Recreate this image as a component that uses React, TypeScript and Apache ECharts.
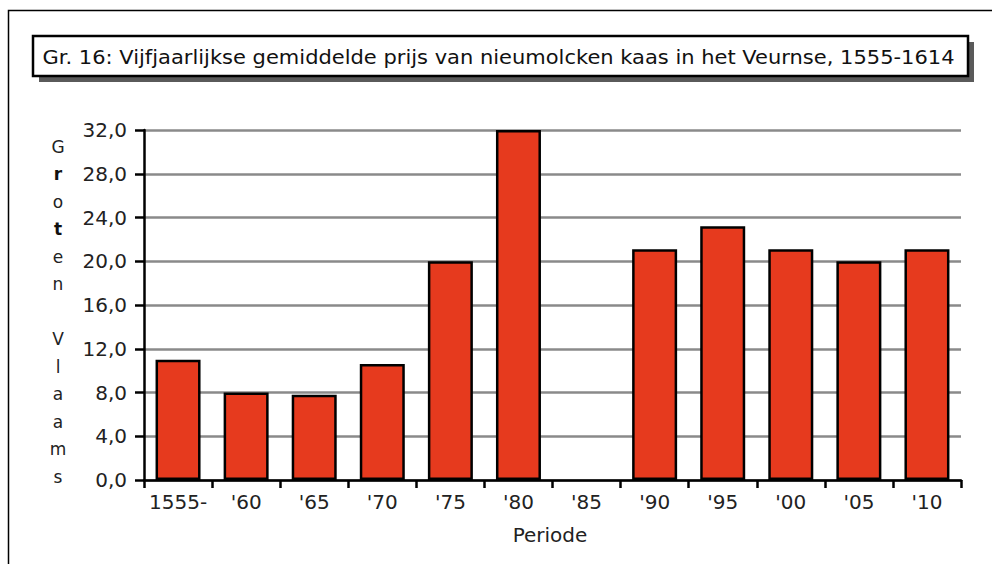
import React, { useEffect, useRef } from "react";
import * as echarts from "echarts";

const categories = ["1555-", "'60", "'65", "'70", "'75", "'80", "'85", "'90", "'95", "'00", "'05", "'10"];
const prices: (number | null)[] = [11.0, 8.0, 7.8, 10.6, 20.0, 32.0, null, 21.1, 23.2, 21.1, 20.0, 21.1];
const titleText = "Gr. 16: Vijfjaarlijkse gemiddelde prijs van nieumolcken kaas in het Veurnse, 1555-1614";
const yNameLetters = ["G", "r", "o", "t", "e", "n", "", "V", "l", "a", "a", "m", "s"];
const boldLetters = [1, 3];
const xName = "Periode";

const FONT = "DejaVu Sans";

export default function App() {
  const ref = useRef<HTMLDivElement>(null);
  useEffect(() => {
    if (!ref.current) return;
    const chart = echarts.init(ref.current, undefined, { renderer: "svg" });
    const richText = yNameLetters
      .map((l, i) => (l === "" ? "{n| }" : `{${boldLetters.includes(i) ? "b" : "n"}|${l}}`))
      .join("\n");
    chart.setOption({
      animation: false,
      backgroundColor: "#ffffff",
      grid: { left: 144, top: 130, width: 817, height: 350 },
      xAxis: {
        type: "category",
        data: categories,
        boundaryGap: true,
        axisLine: { show: true, onZero: false, lineStyle: { color: "#000", width: 2.5 } },
        axisTick: { show: true, interval: 0, alignWithLabel: false, length: 8, lineStyle: { color: "#000", width: 2.5 } },
        axisLabel: { interval: 0, color: "#222", fontFamily: FONT, fontSize: 20, margin: 12 },
        splitLine: { show: false },
      },
      yAxis: {
        type: "value",
        min: 0,
        max: 32,
        interval: 4,
        axisLine: { show: true, lineStyle: { color: "#000", width: 2.5 } },
        axisTick: { show: true, length: 9, lineStyle: { color: "#000", width: 2.5 } },
        axisLabel: {
          color: "#222",
          fontFamily: FONT,
          fontSize: 20,
          margin: 17,
          formatter: (v: number) => v.toFixed(1).replace(".", ","),
        },
        splitLine: { show: true, lineStyle: { color: "#8a8a8a", width: 2.5 } },
      },
      series: [
        {
          type: "bar",
          data: prices,
          barWidth: 45,
          itemStyle: { color: "#E63A1E", borderColor: "#000", borderWidth: 2.5 },
        },
      ],
      graphic: [
        {
          type: "rect",
          shape: { x: 8.5, y: 10.5, width: 1100, height: 700 },
          style: { fill: "none", stroke: "#000", lineWidth: 1.5 },
          silent: true,
        },
        {
          type: "rect",
          shape: { x: 39, y: 42, width: 935, height: 40 },
          style: { fill: "#5a5a5a" },
          silent: true,
        },
        {
          type: "rect",
          shape: { x: 33, y: 36, width: 935, height: 40 },
          style: { fill: "#fff", stroke: "#000", lineWidth: 2.5 },
          silent: true,
        },
        {
          type: "text",
          x: 498.5,
          y: 57,
          scaleX: 1.05,
          style: {
            text: titleText,
            fontFamily: FONT,
            fontSize: 20,
            fill: "#111",
            align: "center",
            verticalAlign: "middle",
          },
          silent: true,
        },
        {
          type: "text",
          x: 58,
          y: 133,
          style: {
            text: richText,
            align: "center",
            verticalAlign: "top",
            fill: "#222",
            rich: {
              n: { fontFamily: FONT, fontSize: 17, lineHeight: 27.5, fill: "#222" },
              b: { fontFamily: FONT, fontSize: 17, lineHeight: 27.5, fontWeight: "bold", fill: "#111" },
            },
          },
          silent: true,
        },
        {
          type: "text",
          x: 550,
          y: 535,
          style: {
            text: xName,
            fontFamily: FONT,
            fontSize: 20,
            fill: "#222",
            align: "center",
            verticalAlign: "middle",
          },
          silent: true,
        },
      ],
    });
    return () => chart.dispose();
  }, []);
  return <div ref={ref} style={{ width: 992, height: 564, position: "absolute", left: 0, top: 0 }} />;
}
